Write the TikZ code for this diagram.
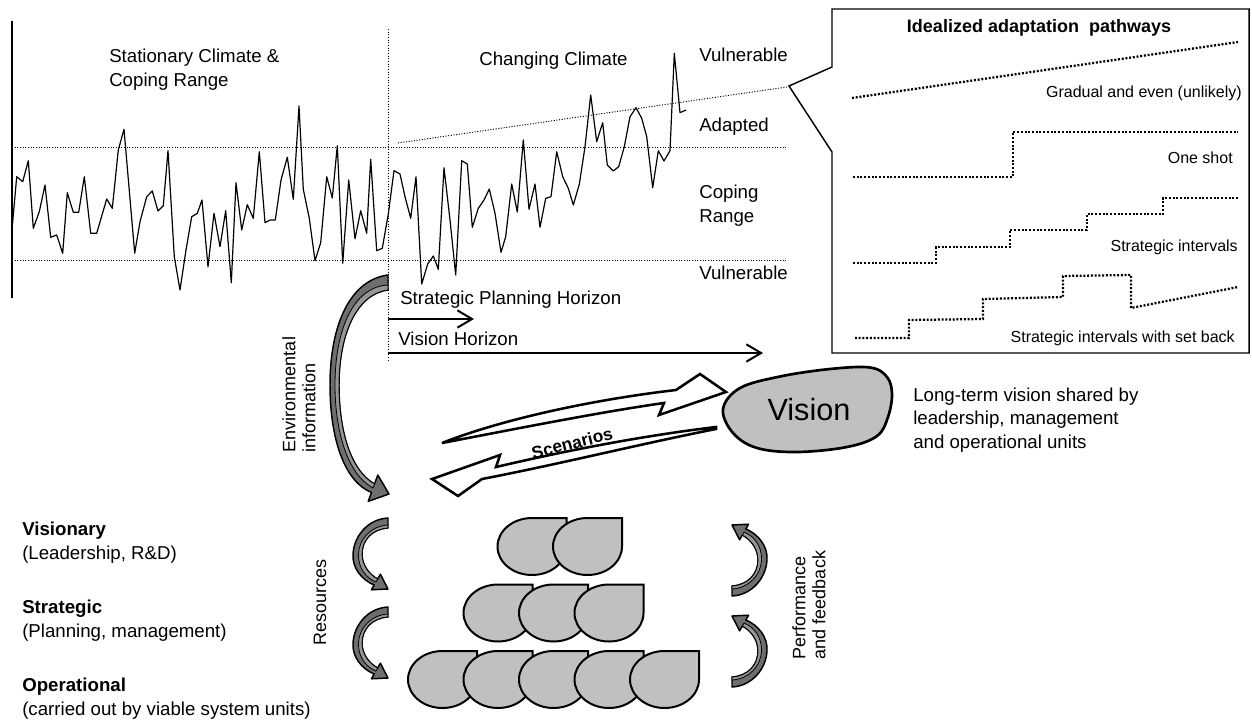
\documentclass[tikz,border=0pt]{standalone}
\usepackage{fontspec}
\setmainfont{Liberation Sans}
\usetikzlibrary{arrows.meta}
\definecolor{dgray}{RGB}{110,110,110}
\definecolor{mgray}{RGB}{150,150,150}
\definecolor{lgray}{RGB}{192,192,192}
\begin{document}
\begin{tikzpicture}[x=0.75pt,y=-0.75pt,
  lbl/.style={font=\fontsize{14}{18}\selectfont, inner sep=0pt, anchor=west, align=left},
  rlbl/.style={font=\fontsize{13.5}{15}\selectfont, inner sep=0pt, rotate=90, align=left},
  slbl/.style={font=\fontsize{12}{14}\selectfont, inner sep=0pt, anchor=east},
  fdot/.style={line width=0.7pt, dash pattern=on 0.8pt off 1.2pt},
  bdot/.style={line width=1.7pt, dash pattern=on 1.5pt off 1.3pt},
  zig/.style={line width=0.9pt, line join=round},
  harr/.style={line width=1.5pt, -{Straight Barb[length=11pt,width=13pt,line width=1.5pt]}},
  arrfill/.style={draw=black, fill=dgray, line width=1.1pt, line join=round},
  foldst/.style={draw=black, fill=mgray, line width=0.6pt, line join=round},
  blobst/.style={draw=black, fill=lgray, line width=1.5pt},
  scen/.style={draw=black, fill=white, line width=1.9pt},
  visst/.style={draw=black, fill=lgray, line width=2pt},
  drop/.pic={\draw[blobst] (34.5,-28.5) -- (0,-28.5) .. controls (-19.05,-28.5) and (-34.5,-15.74) .. (-34.5,0) .. controls (-34.5,15.74) and (-19.05,28.5) .. (0,28.5) .. controls (19.05,28.5) and (34.5,15.74) .. (34.5,0) -- cycle;},
  curvarr/.pic={\draw[arrfill] (0,0) -- (0,10) .. controls (-16,11) and (-26,22) .. (-26,36) .. controls (-26,48) and (-18,57) .. (-10.35,61) -- (-7.6,56.2) -- (0,71) -- (-16.6,71.8) -- (-13.85,67) .. controls (-26,62) and (-36,50) .. (-35,36) .. controls (-34,18) and (-20,1) .. (0,0) -- cycle;
    \draw[foldst] (0,10) .. controls (-16,11) and (-26,22) .. (-26,36) .. controls (-26,48) and (-18,57) .. (-10.35,61) -- (-12,64) .. controls (-22,60) and (-30,50) .. (-29.5,36) .. controls (-29,21) and (-17,8) .. (0,7) -- cycle;}
]
\useasboundingbox (0,0) rectangle (1252,721);

% ---------- climate graph ----------
\coordinate (ax0) at (12,21); \coordinate (ax1) at (12,298);
\draw[line width=1.1pt] (ax0) -- (ax1);
\coordinate (vd0) at (388,29); \coordinate (vd1) at (388,362);
\draw[fdot] (vd0) -- (vd1);
\coordinate (hu0) at (12,147); \coordinate (hu1) at (787,147);
\coordinate (hl0) at (12,260); \coordinate (hl1) at (787,260);
\draw[fdot] (hu0) -- (hu1);
\draw[fdot] (hl0) -- (hl1);
\coordinate (tr0) at (398,143); \coordinate (tr1) at (787,87);
\draw[fdot] (tr0) -- (tr1);

\draw[zig] plot coordinates {(12,230) (16.7,176.7) (22.7,181.7) (28.3,160.7) (33.3,228.3) (39.3,211.7) (45,185) (50.7,237.3) (56.7,235) (62.7,253.3) (67.3,192.7) (73.3,212.3) (78.7,212.3) (84.3,176.7) (90.7,233.3) (96.7,233.3) (106.7,199) (112.3,208.3) (118.3,150) (124,129.3) (134.7,253.3) (140,221.7) (146.7,196.7) (152.3,191) (158,211) (163.3,205.7) (168,150.7) (174.3,256.7) (180,290) (186,250) (191.7,216.7) (197.3,213.3) (202,200) (208,266.7) (214,213.3) (220,246.7) (225.7,210.7) (231.3,282.7) (236,182.7) (241.7,230) (247.3,204.7) (253.3,218.3) (259.3,151.7) (265,222.7) (270,220) (275.3,220) (281,180) (287.3,157.3) (293.3,199.3) (299,106) (303.3,189.3) (309.3,218.3) (315,260.7) (320.7,242.7) (326.7,176.7) (332.3,198) (337.3,145.7) (342.7,263.3) (348.7,180) (355,238.7) (360.7,210.7) (366.7,233.3) (370.7,159.3) (376.7,250.7) (382.3,248.3) (388.3,214) (394,170.7) (400,174) (405,196.7) (410.7,218.3) (416,176.7) (421.7,284) (427.7,264) (433.3,256) (438.3,269.3) (444,167.7) (450,220) (455.7,275) (461.7,160.7) (467.3,164) (472.3,227.3) (478.3,208.3) (484,200) (489.3,189) (495,213.3) (501,252.3) (505.7,236.7) (511.7,184) (517.3,212) (523.3,140) (529,209.3) (535,184) (540,227.3) (545.7,198.3) (551,196.7) (556.7,151.7) (562.7,176.7) (568.3,188.3) (573.3,205) (579.3,184.3) (585,146.7) (590.7,95) (596.7,141.7) (602.7,122.7) (607.3,165) (613.3,171) (618.7,166.7) (624.3,146.7) (630,116.7) (636,107.7) (641.7,118.3) (646.7,136.7) (652.7,187.7) (658.3,150.7) (664,161) (670,150.7) (674.3,53.3) (680,112.7) (686,110)};

\node[lbl] (stat) at (109,69.5) {Stationary Climate \&\\Coping Range};
\node[lbl] (chg) at (479,61) {Changing Climate};
\node[lbl] (vul1) at (699,55) {Vulnerable};
\node[lbl] (adp) at (699,127) {Adapted};
\node[lbl] (cop) at (699,205.5) {Coping\\Range};
\node[lbl] (vul2) at (699,273) {Vulnerable};

% ---------- horizons ----------
\node[lbl] (sph) at (400,300) {Strategic Planning Horizon};
\node[lbl] (vh) at (398,339) {Vision Horizon};
\coordinate (sa0) at (388,319); \coordinate (sa1) at (474,319);
\coordinate (va0) at (388,353); \coordinate (va1) at (763,353);
\draw[harr] (sa0) -- (sa1);
\draw[harr] (va0) -- (va1);

% ---------- idealized pathways box ----------
\draw[line width=1.1pt, line join=miter] (832,9) -- (1249,9) -- (1249,353) -- (832,353) -- (832,152) -- (789,86) -- (832,67) -- cycle;
\node[font=\bfseries\fontsize{13.5}{16}\selectfont, inner sep=0pt] (ttl) at (1039,28) {Idealized adaptation\ \ pathways};
\draw[bdot] (852,98) -- (1238,42);
\node[slbl] (p1) at (1242,93) {Gradual and even (unlikely)};
\draw[bdot] (853,177) -- (1013,177) -- (1013,132) -- (1238,132);
\node[slbl] (p2) at (1233,158) {One shot};
\draw[bdot] (853,263) -- (936,263) -- (936,247) -- (1010,247) -- (1010,230) -- (1087,230) -- (1087,214) -- (1163,214) -- (1163,198) -- (1238,198);
\node[slbl] (p3) at (1238,247) {Strategic intervals};
\draw[bdot] (855,338) -- (909,338) -- (909,320) -- (983,319) -- (983,299) -- (1063,297) -- (1063,276) -- (1131,275) -- (1131,308) -- (1238,287);
\node[slbl] (p4) at (1235,338) {Strategic intervals with set back};

% ---------- environmental information arrow ----------
\draw[arrfill] (388,275) -- (388,290) .. controls (356,294) and (339,335) .. (339,385) .. controls (339,430) and (350,470) .. (374.5,484) -- (377.8,475) -- (389,494) -- (368.2,501.4) -- (371.5,492.4) .. controls (345,482) and (330,440) .. (330,385) .. controls (330,325) and (350,280) .. (388,275) -- cycle;
\draw[foldst] (388,290) .. controls (356,294) and (339,335) .. (339,385) .. controls (339,430) and (350,470) .. (374.5,484) -- (373,488) .. controls (347,474) and (335,430) .. (335,385) .. controls (335,332) and (352,287) .. (388,285) -- cycle;
\node[rlbl] (env) at (299,394.5) {Environmental\\information};

% ---------- vision ----------
\draw[visst] plot[smooth cycle, tension=0.6] coordinates {(723,409) (740,388) (780,376.5) (830,369) (870,367.5) (887,377) (892,394) (888,417) (877,436) (847,447) (797,452) (757,448) (733,433)};
\node[font=\fontsize{23}{26}\selectfont, inner sep=0pt] (vision) at (809,410) {Vision};
\node[lbl, font=\fontsize{14}{17.5}\selectfont] (lt) at (913,420) {Long-term vision shared by\\leadership, management\\and operational units};

% ---------- scenarios ----------
\draw[scen] (442,443) .. controls (500,420) and (590,400) .. (676,390) -- (700,374) -- (726,392) -- (659,415) -- (664,403) .. controls (600,412) and (510,430) .. (442,443) -- cycle;
\draw[scen] (716,427) .. controls (640,436) and (560,452) .. (496,467) -- (500,455) -- (432,479) -- (458,496) -- (482,479) .. controls (560,464) and (640,444) .. (716,429) -- cycle;
\node[font=\bfseries\fontsize{13}{15}\selectfont, inner sep=0pt, rotate=14] (scn) at (572,443) {Scenarios};

% ---------- levels ----------
\node[lbl] (lv1) at (22,543) {\textbf{Visionary}\\(Leadership, R\&D)};
\node[lbl] (lv2) at (22,621) {\textbf{Strategic}\\(Planning, management)};
\node[lbl] (lv3) at (22,698.5) {\textbf{Operational}\\(carried out by viable system units)};

\pic at (388,518) {curvarr};
\pic at (388,607) {curvarr};
\node[rlbl] (res) at (320,602) {Resources};

\pic[rotate=180] at (732,596) {curvarr};
\pic[rotate=180] at (732,687) {curvarr};
\node[rlbl] (perf) at (809,605) {Performance\\and feedback};

% ---------- units ----------
\pic at (532,546.5) {drop};
\pic at (587.5,546.5) {drop};
\pic at (498,613) {drop};
\pic at (553.5,613) {drop};
\pic at (609,613) {drop};
\pic at (442.5,679.5) {drop};
\pic at (498,679.5) {drop};
\pic at (553.5,679.5) {drop};
\pic at (609,679.5) {drop};
\pic at (664.5,679.5) {drop};
\end{tikzpicture}
\end{document}
